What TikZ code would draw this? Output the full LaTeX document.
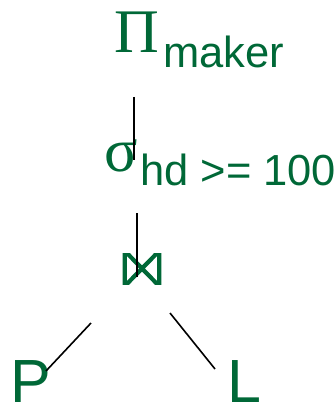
\documentclass[tikz,border=0pt]{standalone}
\usepackage{fontspec}
\setmainfont{Liberation Sans}
\newfontfamily\greekfont{Liberation Serif}
\definecolor{treegreen}{RGB}{0,104,55}
\tikzset{
  x=1pt, y=-1pt,
  lbl/.style={text=treegreen, inner sep=0pt, anchor=base west},
  edge/.style={draw=black, line width=1.6pt},
  sym/.style={lbl, font=\greekfont\fontsize{62}{62}\selectfont},
  sub/.style={lbl, font=\fontsize{43.5}{43.5}\selectfont},
  rel/.style={lbl, font=\fontsize{61}{61}\selectfont},
  joinsym/.style={inner sep=0pt, minimum width=39pt, minimum height=31pt,
    path picture={
      \draw[treegreen, line width=4.2pt, line join=round, line cap=round]
        ([shift={(2.2pt,2.2pt)}]path picture bounding box.north west)
        -- ([shift={(2.2pt,-2.2pt)}]path picture bounding box.south west)
        -- ([shift={(-2.2pt,2.2pt)}]path picture bounding box.north east)
        -- ([shift={(-2.2pt,-2.2pt)}]path picture bounding box.south east)
        -- cycle;
    }},
}
\begin{document}
\begin{tikzpicture}
  \useasboundingbox (0,0) rectangle (336,406);

  % projection
  \node[sym] (proj) at (114,53) {Π};
  \node[sub] (projsub) at (163,68) {maker};

  % selection
  \node[sym] (sel) at (104,171) {σ};
  \node[sub] (selsub) at (140,185) {hd >= 100};

  % natural join
  \node[joinsym] (join) at (142,268.5) {};

  % base relations
  \node[rel] (relP) at (10,402) {P};
  \node[rel] (relL) at (227,402) {L};

  % edge end points
  \coordinate (e1a) at (134,97);
  \coordinate (e1b) at (134,160);
  \coordinate (e2a) at (137,213);
  \coordinate (e2b) at (137,277);
  \coordinate (e3a) at (91,323);
  \coordinate (e3b) at (46,371);
  \coordinate (e4a) at (170,313);
  \coordinate (e4b) at (215,369);

  \draw[edge] (e1a) -- (e1b);
  \draw[edge] (e2a) -- (e2b);
  \draw[edge] (e3a) -- (e3b);
  \draw[edge] (e4a) -- (e4b);
\end{tikzpicture}
\end{document}
